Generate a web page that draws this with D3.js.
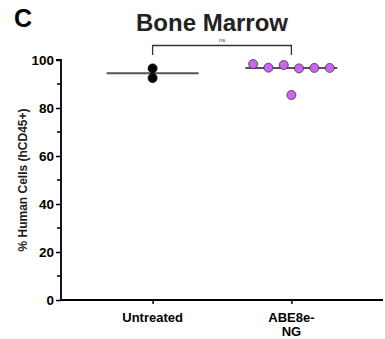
<!DOCTYPE html>
<html>
<head>
<meta charset="utf-8">
<script src="https://cdn.jsdelivr.net/npm/d3@7"></script>
<style>
  body { margin: 0; background: #fff; }
  svg { display: block; font-family: "Liberation Sans", Arial, sans-serif; }
</style>
</head>
<body>
<svg id="chart" width="385" height="339"></svg>
<script>
// ---- data ----
const categories = ["Untreated", "ABE8e-NG"];
const categoryLines = [["Untreated"], ["ABE8e-", "NG"]];
const untreatedValues = [96.5, 92.5];
const abeValues = [98.3, 96.8, 97.9, 96.5, 96.7, 96.7, 85.4];
const seriesValues = [untreatedValues, abeValues];
const seriesColors = ["#000000", "#cc66f0"];
const yTicks = [0, 20, 40, 60, 80, 100];
const yMinorTicks = [10, 30, 50, 70, 90];
const title = "Bone Marrow";
const panelLabel = "C";
const yLabel = "% Human Cells (hCD45+)";
const sigLabel = "ns";

// ---- layout ----
const svg = d3.select("#chart");
const mLeft = 61, mRight = 383, mTop = 60, mBottom = 300;
const r = 4.5;

const x = d3.scalePoint().domain(categories).range([mLeft, mRight]).padding(0.66);
const y = d3.scaleLinear().domain([0, 100]).range([mBottom, mTop]);

// panel label and title
svg.append("text").attr("x", 14).attr("y", 27)
  .attr("font-size", 25).attr("font-weight", "bold").text(panelLabel);
svg.append("text").attr("x", 212).attr("y", 30.5).attr("text-anchor", "middle")
  .attr("font-size", 24).attr("font-weight", "bold").attr("fill", "#222").text(title);

// y axis
const yAxis = d3.axisLeft(y).tickValues(yTicks).tickSize(5).tickPadding(2);
const gy = svg.append("g").attr("transform", `translate(${mLeft},0)`).call(yAxis);
gy.select(".domain").attr("stroke-width", 1.8).attr("d", `M-5,${mTop}H0V${mBottom}`);
gy.selectAll(".tick line").attr("stroke-width", 1.5);
gy.selectAll(".tick text").attr("font-size", 13.5).attr("font-weight", "bold")
  .attr("font-family", "Liberation Sans, Arial, sans-serif").attr("fill", "#000");
gy.selectAll(".minor").data(yMinorTicks).enter().append("line")
  .attr("x1", -4).attr("x2", 0).attr("y1", d => y(d)).attr("y2", d => y(d))
  .attr("stroke", "#000").attr("stroke-width", 1.5);

svg.append("text")
  .attr("transform", `translate(27,${(mTop + mBottom) / 2}) rotate(-90)`)
  .attr("text-anchor", "middle").attr("font-size", 12).attr("font-weight", "bold")
  .attr("fill", "#222").text(yLabel);

// x axis
const xAxis = d3.axisBottom(x).tickSize(4).tickFormat("");
const gx = svg.append("g").attr("transform", `translate(0,${mBottom})`).call(xAxis);
gx.select(".domain").attr("stroke-width", 1.8).attr("d", `M${mLeft},0H${mRight}`);
gx.selectAll(".tick line").attr("stroke-width", 1.5);
categories.forEach((c, i) => {
  const t = svg.append("text").attr("x", x(c)).attr("y", mBottom + 22)
    .attr("text-anchor", "middle").attr("font-size", 13).attr("font-weight", "bold");
  categoryLines[i].forEach((ln, j) => {
    t.append("tspan").attr("x", x(c)).attr("dy", j === 0 ? 0 : 14).text(ln);
  });
});

// median lines
const halfW = 46;
categories.forEach((c, i) => {
  const m = d3.median(seriesValues[i]);
  svg.append("line").attr("x1", x(c) - halfW).attr("x2", x(c) + halfW)
    .attr("y1", y(m)).attr("y2", y(m)).attr("stroke", "#555").attr("stroke-width", 2);
});

// points: simple swarm - points close in y are spread horizontally in data order
const spacing = 15.3;
categories.forEach((c, i) => {
  const vals = seriesValues[i];
  const clusters = [];
  vals.forEach((v, k) => {
    let cl = clusters.find(g => g.some(o => Math.abs(y(vals[o]) - y(v)) < 2 * r));
    if (cl) cl.push(k); else clusters.push([k]);
  });
  const pts = [];
  clusters.forEach(g => g.forEach((k, j) => {
    pts.push({ v: vals[k], dx: (j - (g.length - 1) / 2) * spacing });
  }));
  svg.selectAll(null).data(pts).enter().append("circle")
    .attr("cx", d => x(c) + d.dx).attr("cy", d => y(d.v)).attr("r", r)
    .attr("fill", seriesColors[i]).attr("stroke", i === 0 ? "#000" : "#333")
    .attr("stroke-width", 0.8);
});

// significance bracket
const bTop = 45.5, bBot = 55;
const x1 = x(categories[0]), x2 = x(categories[1]);
svg.append("path").attr("d", `M${x1},${bBot}V${bTop}H${x2}V${bBot}`)
  .attr("fill", "none").attr("stroke", "#333").attr("stroke-width", 1.3);
svg.append("text").attr("x", (x1 + x2) / 2).attr("y", 41.5).attr("text-anchor", "middle")
  .attr("font-size", 6).attr("fill", "#444").text(sigLabel);
</script>
</body>
</html>
